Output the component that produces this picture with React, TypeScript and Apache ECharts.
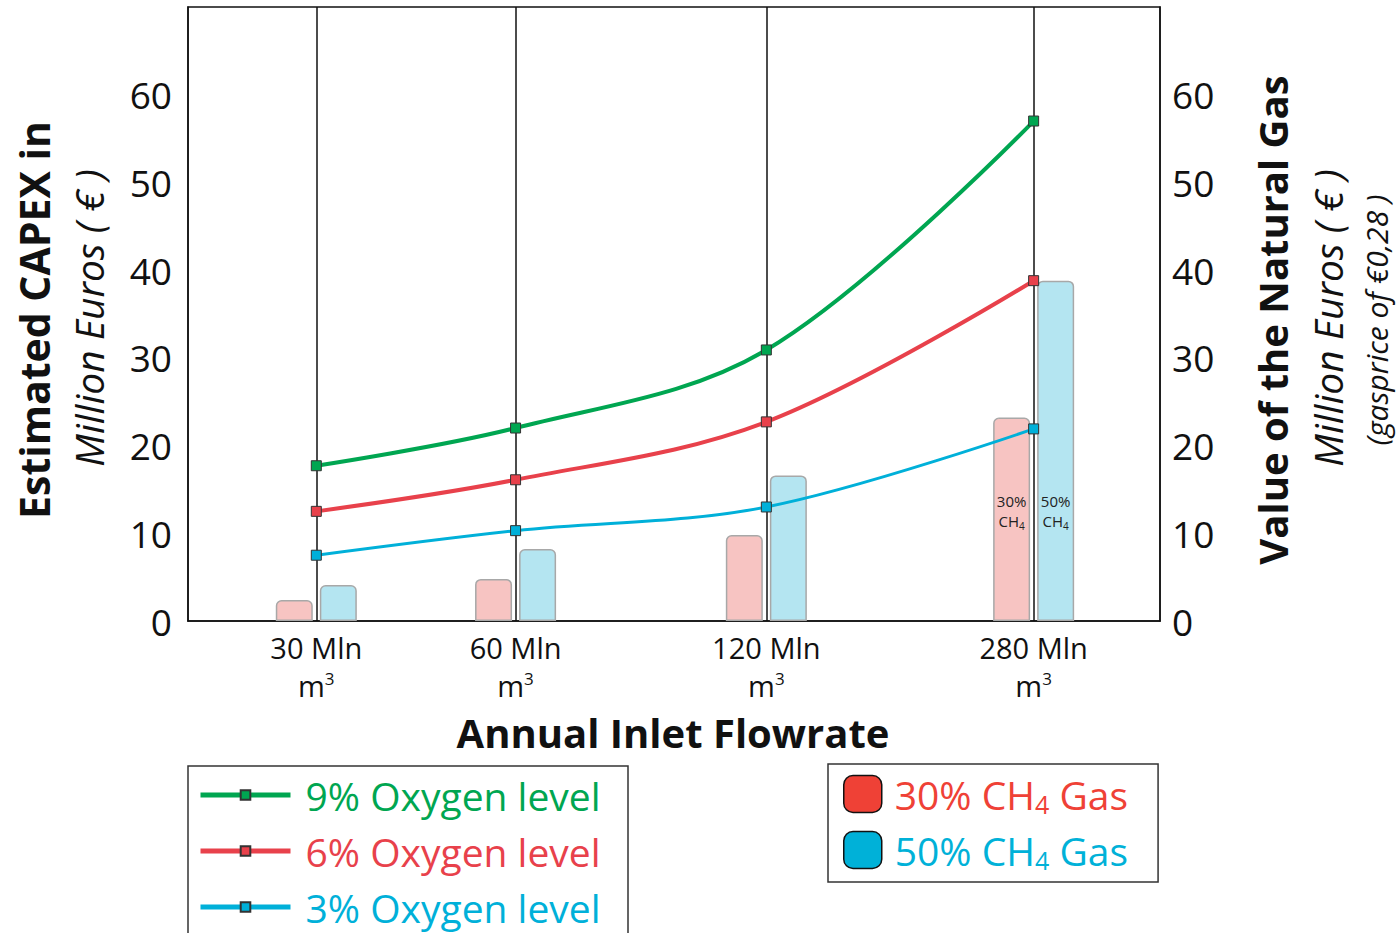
import React, { useEffect, useRef } from "react";
import * as echarts from "echarts";

// Categories (annual inlet flowrate) and their positions along the horizontal axis (0-100 scale)
const flowLabels = ["30 Mln", "60 Mln", "120 Mln", "280 Mln"];
const flowPos = [13.2, 33.7, 59.5, 87.0];

// CAPEX (million €) per oxygen level
const oxy9 = [17.7, 22.0, 30.9, 57.0];
const oxy6 = [12.5, 16.1, 22.7, 38.8];
const oxy3 = [7.5, 10.3, 13.0, 21.9];

// Value of natural gas (million €)
const gas30 = [2.4, 4.8, 9.8, 23.2];
const gas50 = [4.1, 8.2, 16.6, 38.8];

const yTicks = [0, 10, 20, 30, 40, 50, 60];

const FONT = "'Open Sans', 'Noto Sans', sans-serif";
const GREEN = "#00A651";
const RED = "#E8414B";
const BLUE = "#00B0D9";

export default function App() {
  const ref = useRef<HTMLDivElement>(null);
  useEffect(() => {
    if (!ref.current) return;
    const chart = echarts.init(ref.current, undefined, { renderer: "svg" });
    const pair = (arr: number[]) => arr.map((v, i) => [flowPos[i], v]);
    const barItems = (arr: number[], tag: string) =>
      arr.map((v, i) =>
        i === arr.length - 1
          ? {
              value: [flowPos[i], v],
              label: {
                show: true,
                position: "insideBottom",
                distance: 90,
                formatter: tag + "\nCH{sub|4}",
                fontFamily: FONT,
                fontSize: 15,
                lineHeight: 20,
                color: "#222",
                rich: { sub: { fontSize: 10, lineHeight: 14, verticalAlign: "bottom", fontFamily: FONT, color: "#222" } },
              },
            }
          : [flowPos[i], v]
      );
    const lineSeries = (name: string, data: number[], color: string, width: number) => ({
      name,
      type: "line",
      data: pair(data),
      smooth: 0.35,
      symbol: "rect",
      symbolSize: 10,
      z: 5,
      lineStyle: { color, width },
      itemStyle: { color, borderColor: "#333", borderWidth: 1 },
    });
    chart.setOption({
      animation: false,
      backgroundColor: "#fff",
      grid: {
        left: 188,
        top: 7,
        width: 972,
        height: 614,
        show: true,
        borderColor: "#111",
        borderWidth: 1.5,
        backgroundColor: "transparent",
      },
      xAxis: {
        type: "value",
        min: 0,
        max: 100,
        axisLine: { show: true, lineStyle: { color: "#111", width: 1.5 } },
        axisTick: { show: false },
        splitLine: { show: false },
        axisLabel: {
          customValues: flowPos,
          margin: 7,
          fontFamily: FONT,
          fontSize: 29,
          lineHeight: 38,
          color: "#111",
          formatter: (v: number) => {
            const i = flowPos.indexOf(v);
            return i < 0 ? "" : flowLabels[i] + "\nm{sup|3}";
          },
          rich: { sup: { fontSize: 17, padding: [0, 0, 14, 0], fontFamily: FONT, color: "#111" } },
        },
      },
      yAxis: [
        {
          type: "value",
          position: "left",
          min: 0,
          max: 70,
          interval: 10,
          axisLine: { show: true, lineStyle: { color: "#111", width: 1.5 } },
          axisTick: { show: false },
          splitLine: { show: false },
          axisLabel: {
            margin: 16,
            fontFamily: FONT,
            fontSize: 37,
            color: "#111",
            formatter: (v: number) => (yTicks.includes(v) ? String(v) : ""),
          },
        },
        {
          type: "value",
          position: "right",
          min: 0,
          max: 70,
          interval: 10,
          axisLine: { show: true, lineStyle: { color: "#111", width: 1.5 } },
          axisTick: { show: false },
          splitLine: { show: false },
          axisLabel: {
            margin: 12,
            fontFamily: FONT,
            fontSize: 37,
            color: "#111",
            formatter: (v: number) => (yTicks.includes(v) ? String(v) : ""),
          },
        },
      ],
      legend: [
        {
          left: 186,
          top: 766,
          orient: "vertical",
          padding: [7, 16, 0, 12],
          itemWidth: 90,
          itemHeight: 12,
          itemGap: 12,
          textStyle: { fontFamily: FONT, fontSize: 39, lineHeight: 44, padding: [0, 0, 0, 10] },
          data: [
            { name: "9% Oxygen level", textStyle: { color: GREEN }, lineStyle: { width: 5 } },
            { name: "6% Oxygen level", textStyle: { color: RED }, lineStyle: { width: 5 } },
            { name: "3% Oxygen level", textStyle: { color: BLUE }, lineStyle: { width: 5 } },
          ],
        },
        {
          left: 828,
          top: 764,
          orient: "vertical",
          padding: [8, 30, 10, 15],
          borderColor: "#333",
          borderWidth: 1.5,
          itemWidth: 38,
          itemHeight: 37,
          itemGap: 12,
          icon: "roundRect",
          textStyle: {
            fontFamily: FONT,
            fontSize: 39,
            lineHeight: 44,
            padding: [0, 0, 0, 8],
            rich: { sub: { fontSize: 25, lineHeight: 18, verticalAlign: "bottom", fontFamily: FONT } },
          },
          formatter: (n: string) => n.replace("CH4", "CH{sub|4}"),
          data: [
            { name: "30% CH4 Gas", textStyle: { color: "#EF4136" }, itemStyle: { color: "#EF4136", borderColor: "#111", borderWidth: 1.5 } },
            { name: "50% CH4 Gas", textStyle: { color: "#00B1D8" }, itemStyle: { color: "#00B1D8", borderColor: "#111", borderWidth: 1.5 } },
          ],
        },
      ],
      series: [
        {
          name: "30% CH4 Gas",
          type: "bar",
          yAxisIndex: 1,
          barWidth: 37,
          barGap: "19%",
          data: barItems(gas30, "30%"),
          itemStyle: { color: "#F7C4C2", borderColor: "#A8A8A8", borderWidth: 1.5, borderRadius: [5, 5, 0, 0] },
        },
        {
          name: "50% CH4 Gas",
          type: "bar",
          yAxisIndex: 1,
          barWidth: 37,
          barGap: "19%",
          data: barItems(gas50, "50%"),
          itemStyle: { color: "#B4E5F1", borderColor: "#A8A8A8", borderWidth: 1.5, borderRadius: [5, 5, 0, 0] },
        },
        {
          name: "guides",
          type: "line",
          data: pair(oxy3),
          symbol: "none",
          silent: true,
          z: 3,
          lineStyle: { opacity: 0 },
          markLine: {
            silent: true,
            symbol: "none",
            label: { show: false },
            lineStyle: { color: "#111", width: 1.5, type: "solid" },
            data: flowPos.map((p) => ({ xAxis: p })),
          },
        },
        lineSeries("9% Oxygen level", oxy9, GREEN, 4),
        lineSeries("6% Oxygen level", oxy6, RED, 4),
        lineSeries("3% Oxygen level", oxy3, BLUE, 3),
      ],
      graphic: [
        {
          type: "rect",
          x: 188,
          y: 766,
          shape: { width: 440, height: 200 },
          style: { fill: "none", stroke: "#333", lineWidth: 1.5 },
        },
        {
          type: "text",
          x: 34,
          y: 320,
          rotation: Math.PI / 2,
          style: { text: "Estimated CAPEX in", font: `bold 41px ${FONT}`, fill: "#111", align: "center", verticalAlign: "middle" },
        },
        {
          type: "text",
          x: 88,
          y: 318,
          rotation: Math.PI / 2,
          style: { text: "Million Euros ( € )", font: `italic 39px ${FONT}`, fill: "#111", align: "center", verticalAlign: "middle" },
        },
        {
          type: "text",
          x: 1272,
          y: 320,
          rotation: Math.PI / 2,
          style: { text: "Value of the Natural Gas", font: `bold 40px ${FONT}`, fill: "#111", align: "center", verticalAlign: "middle" },
        },
        {
          type: "text",
          x: 1327,
          y: 318,
          rotation: Math.PI / 2,
          style: { text: "Million Euros ( € )", font: `italic 39px ${FONT}`, fill: "#111", align: "center", verticalAlign: "middle" },
        },
        {
          type: "text",
          x: 1376,
          y: 320,
          rotation: Math.PI / 2,
          style: { text: "(gasprice of €0,28 )", font: `italic 30px ${FONT}`, fill: "#111", align: "center", verticalAlign: "middle" },
        },
        {
          type: "text",
          x: 673,
          y: 732,
          style: { text: "Annual Inlet Flowrate", font: `bold 40px ${FONT}`, fill: "#111", align: "center", verticalAlign: "middle" },
        },
      ],
    });
    return () => chart.dispose();
  }, []);
  return <div ref={ref} style={{ width: 1396, height: 933, position: "absolute", left: 0, top: 0 }} />;
}
